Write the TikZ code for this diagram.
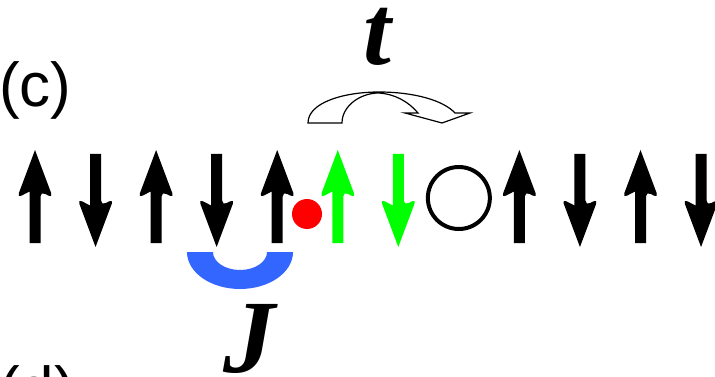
\documentclass[tikz,border=0pt]{standalone}
\usepackage{fontspec}
\setmainfont{Liberation Serif}
\newfontfamily\panelfont{Liberation Sans}
\usepackage{tikz}
\definecolor{Ink}{HTML}{000000}
\definecolor{Bond}{HTML}{3366FF}
\definecolor{Flip}{HTML}{00FF00}
\definecolor{Dopant}{HTML}{FF0000}

\begin{document}
\begin{tikzpicture}[x=1pt,y=-1pt]
  \useasboundingbox (0,0) rectangle (715,377);
  \clip (0,0) rectangle (715,377);
  \def\d{60.55}
  \foreach \i/\s/\c in {
    0/1/Ink, 1/-1/Ink, 2/1/Ink, 3/-1/Ink, 4/1/Ink,
    5/1/Flip, 6/-1/Flip,
    8/1/Ink, 9/-1/Ink, 10/1/Ink, 11/-1/Ink} {
    \begin{scope}[shift={({35+\d*\i},198.5)},yscale=\s]
      \fill[\c] (0,-48.5) [rounded corners=5] -- (18,-0.5) -- (5.5,-7)
        [sharp corners] -- (5.5,44.5) -- (-5.5,44.5) -- (-5.5,-7)
        [rounded corners=5] -- (-18,-0.5) [sharp corners] -- cycle;
    \end{scope}
  }
  \node[circle,draw=Ink,line width=4,minimum size=62,inner sep=0] (hole) at ({35+7*\d},198) {};
  \node[circle,fill=Dopant,minimum size=30,inner sep=0] (dopant) at (307,214) {};
  \fill[Bond] (187,252) arc[start angle=180,end angle=0,x radius=53,y radius=37]
    -- (267,252) arc[start angle=0,end angle=180,x radius=27,y radius=18] -- cycle;
  \filldraw[fill=white,draw=Ink,line width=1.2]
    (308,123) .. controls (308,102) and (345,92) .. (379,92)
    .. controls (413,92) and (443,100) .. (455,113) -- (470,113) -- (442,123)
    -- (405,113) -- (418,113) .. controls (408,101) and (394,94) .. (379,93)
    .. controls (360,93) and (342,106) .. (342,123) -- cycle;
  \node[font=\panelfont\fontsize{62}{62}\selectfont,anchor=base west,inner sep=0] (panelc) at (-1,107) {(c)};
  \node[font=\panelfont\fontsize{62}{62}\selectfont,anchor=base west,inner sep=0] (paneld) at (-1,410) {(d)};
  \node[font=\bfseries\itshape\fontsize{100}{100}\selectfont,anchor=base,inner sep=0,
    text height=56,text depth=2] (hop) at (377,65) {t};
  \node[font=\bfseries\itshape\fontsize{104}{104}\selectfont,anchor=base,inner sep=0,
    text height=70,text depth=2] (exch) at (249,372) {J};
\end{tikzpicture}
\end{document}
